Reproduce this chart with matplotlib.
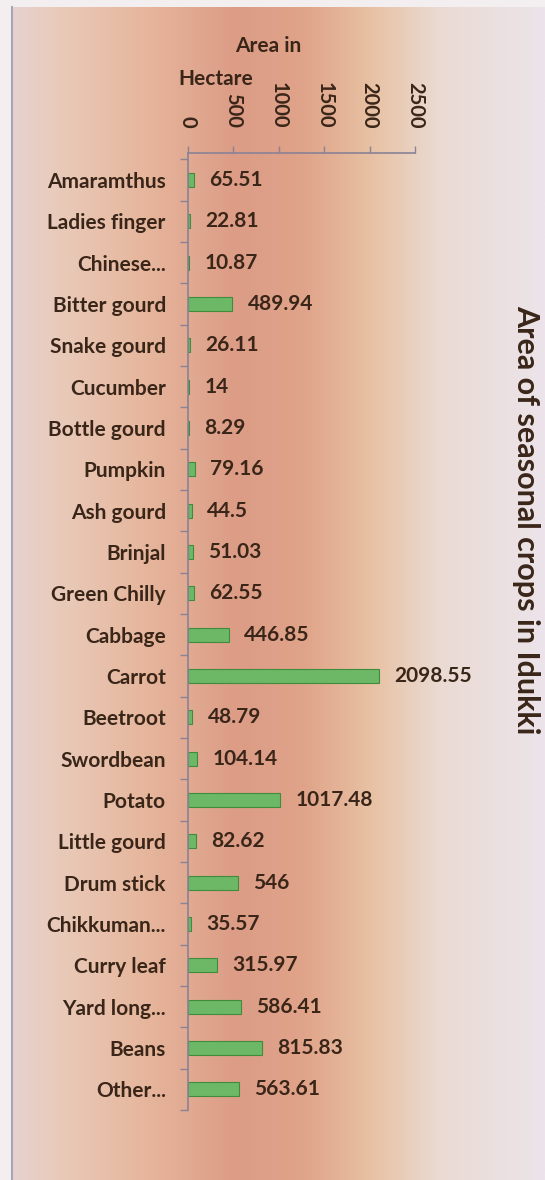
import matplotlib
matplotlib.use("Agg")
import matplotlib.pyplot as plt
import numpy as np
from matplotlib.colors import LinearSegmentedColormap

crops = ["Amaramthus", "Ladies finger", "Chinese...", "Bitter gourd", "Snake gourd",
         "Cucumber", "Bottle gourd", "Pumpkin", "Ash gourd", "Brinjal", "Green Chilly",
         "Cabbage", "Carrot", "Beetroot", "Swordbean", "Potato", "Little gourd",
         "Drum stick", "Chikkuman...", "Curry leaf", "Yard long...", "Beans", "Other..."]
area = [65.51, 22.81, 10.87, 489.94, 26.11, 14, 8.29, 79.16, 44.5, 51.03, 62.55,
        446.85, 2098.55, 48.79, 104.14, 1017.48, 82.62, 546, 35.57, 315.97, 586.41,
        815.83, 563.61]
area_labels = ["65.51", "22.81", "10.87", "489.94", "26.11", "14", "8.29", "79.16",
               "44.5", "51.03", "62.55", "446.85", "2098.55", "48.79", "104.14",
               "1017.48", "82.62", "546", "35.57", "315.97", "586.41", "815.83", "563.61"]
xticks = [0, 500, 1000, 1500, 2000, 2500]

plt.rcParams['font.family'] = ['Lato', 'DejaVu Sans']
TXT = "#3a2619"
WT = "bold"

W, H = 545, 1180
fig = plt.figure(figsize=(W / 100, H / 100), dpi=100)
fig.patch.set_facecolor("#f3eff1")

# background gradient panel
bg = fig.add_axes([12 / W, 0, 1 - 12 / W, 1 - 7 / H], zorder=0)
stops = [(0.0, "#e6d2d0"), (0.08, "#e9cbbb"), (0.25, "#e6b69c"), (0.42, "#dc9c86"),
         (0.55, "#e0a48a"), (0.68, "#e8c2a4"), (0.80, "#eadad2"), (1.0, "#ece4ea")]
cmap = LinearSegmentedColormap.from_list("bgc", stops)
grad = np.tile(np.linspace(0, 1, 400), (50, 1))
bg.imshow(grad, aspect="auto", cmap=cmap, extent=[0, 1, 0, 1], interpolation="bilinear")
bg.set_xlim(0, 1); bg.set_ylim(0, 1)
bg.set_xticks([]); bg.set_yticks([])
for s in ["top", "right", "bottom"]:
    bg.spines[s].set_visible(False)
bg.spines["left"].set_color("#a9a3b8")
bg.spines["left"].set_linewidth(1.5)

ax = fig.add_axes([188 / W, 1 - 1110 / H, (415 - 188) / W, (1110 - 153) / H], zorder=2)
ax.patch.set_alpha(0)
y = np.arange(len(crops))
ax.barh(y, area, height=0.34, color="#6cb866", edgecolor="#3f8c3c", linewidth=0.8)
ax.set_xlim(0, 2500)
ax.set_ylim(len(crops) - 0.52, -0.65)
ax.xaxis.tick_top()
ax.set_xticks(xticks)
ax.set_xticklabels([str(t) for t in xticks], rotation=-90, fontsize=14.5, color=TXT,
                   va="bottom", ha="center", fontweight=WT)
ax.tick_params(axis="x", length=5, width=1, color="#8a8296", pad=13)
ax.set_yticks(y)
ax.set_yticklabels(crops, fontsize=15, color=TXT, fontweight=WT)
ax.tick_params(axis="y", length=0, pad=16)
ax.set_yticks(np.arange(len(crops) + 1) - 0.5, minor=True)
ax.tick_params(axis="y", which="minor", length=6, width=1, color="#8a8296")
for s in ["right", "bottom"]:
    ax.spines[s].set_visible(False)
for s in ["top", "left"]:
    ax.spines[s].set_color("#8a8296")
    ax.spines[s].set_linewidth(1.2)

for yi, v, lab in zip(y, area, area_labels):
    ax.annotate(lab, (v, yi), xytext=(11, 0), textcoords="offset points",
                va="center", ha="left", fontsize=15, color=TXT, fontweight=WT,
                clip_on=False)

fig.text(268 / W, 1 - 46 / H, "Area in", fontsize=15, color=TXT, ha="center",
         va="center", fontweight=WT)
fig.text(216 / W, 1 - 79 / H, "Hectare", fontsize=15, color=TXT, ha="center",
         va="center", fontweight=WT)
fig.text(526 / W, 1 - 520 / H, "Area of seasonal crops in Idukki", fontsize=22,
         fontweight="bold", color=TXT, rotation=-90, ha="center", va="center")

fig.savefig("out.png", dpi=100)
